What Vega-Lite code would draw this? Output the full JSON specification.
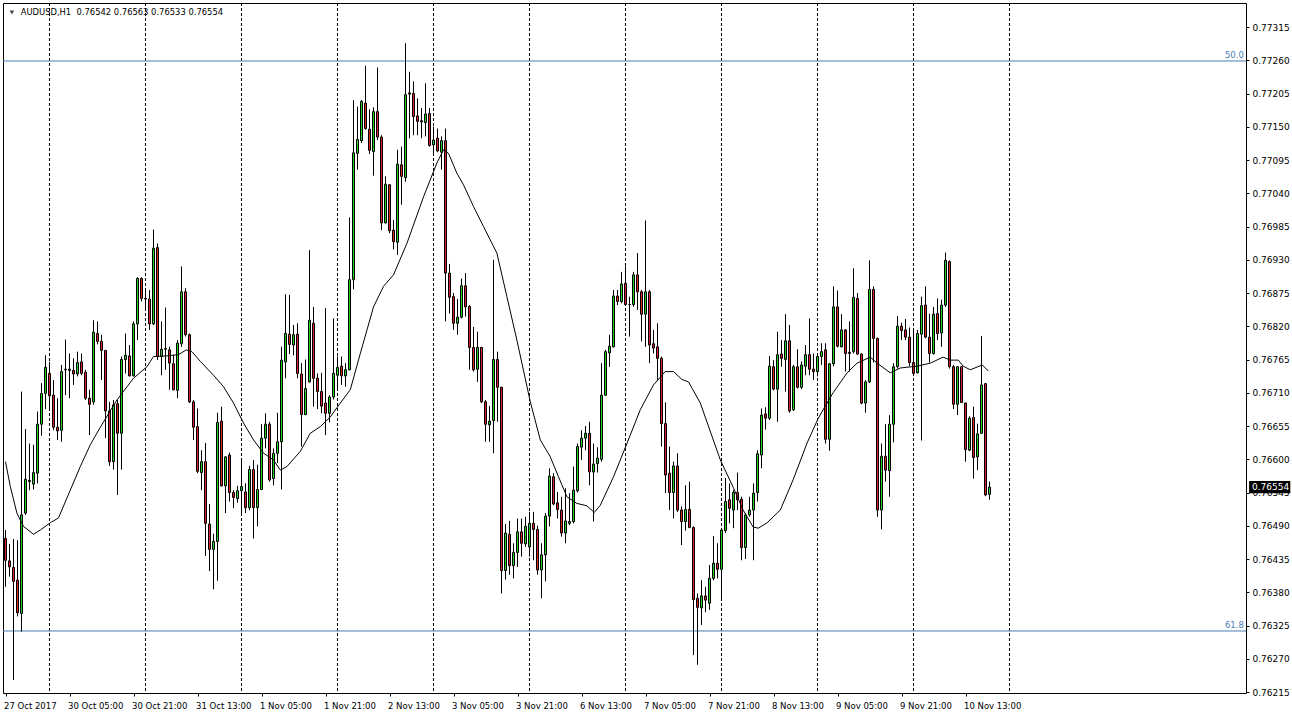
{
"$schema": "https://vega.github.io/schema/vega-lite/v6.json",
"usermeta": {"embedOptions": {"actions": false}},
"width": 1243, "height": 690,
"autosize": {"type": "none"},
"padding": {"left": 3, "top": 3, "right": 46, "bottom": 27},
"background": "white",
"config": {"view": {"stroke": "black", "strokeWidth": 1}, "font": "DejaVu Sans",
 "axis": {"labelFont": "DejaVu Sans", "labelFontSize": 9, "labelColor": "black", "tickColor": "black", "domain": false, "grid": false, "labelOverlap": false, "labelBound": false, "labelFlush": false}},
"datasets": {
"seps": [{"i":11},{"i":35},{"i":59},{"i":83},{"i":107},{"i":131},{"i":155},{"i":179},{"i":203},{"i":227},{"i":251}],
"fib": [{"p":0.772588,"t":"50.0"},{"p":0.76316,"t":"61.8"}],
"bars": [
{"i":0,"o":0.76469,"h":0.76483,"l":0.76389,"c":0.76433},
{"i":1,"o":0.76432,"h":0.76460,"l":0.76406,"c":0.76422},
{"i":2,"o":0.76421,"h":0.76468,"l":0.76235,"c":0.76398},
{"i":3,"o":0.76400,"h":0.76466,"l":0.76340,"c":0.76346},
{"i":4,"o":0.76345,"h":0.76712,"l":0.76315,"c":0.76508},
{"i":5,"o":0.76511,"h":0.76650,"l":0.76508,"c":0.76567},
{"i":6,"o":0.76563,"h":0.76626,"l":0.76549,"c":0.76565},
{"i":7,"o":0.76559,"h":0.76624,"l":0.76550,"c":0.76578},
{"i":8,"o":0.76577,"h":0.76679,"l":0.76560,"c":0.76658},
{"i":9,"o":0.76658,"h":0.76726,"l":0.76639,"c":0.76709},
{"i":10,"o":0.76709,"h":0.76772,"l":0.76683,"c":0.76752},
{"i":11,"o":0.76742,"h":0.76761,"l":0.76684,"c":0.76705},
{"i":12,"o":0.76706,"h":0.76731,"l":0.76648,"c":0.76653},
{"i":13,"o":0.76653,"h":0.76701,"l":0.76632,"c":0.76647},
{"i":14,"o":0.76648,"h":0.76756,"l":0.76629,"c":0.76745},
{"i":15,"o":0.76748,"h":0.76798,"l":0.76706,"c":0.76749},
{"i":16,"o":0.76749,"h":0.76775,"l":0.76701,"c":0.76747},
{"i":17,"o":0.76747,"h":0.76767,"l":0.76723,"c":0.76741},
{"i":18,"o":0.76741,"h":0.76778,"l":0.76737,"c":0.76760},
{"i":19,"o":0.76761,"h":0.76775,"l":0.76739,"c":0.76742},
{"i":20,"o":0.76744,"h":0.76748,"l":0.76698,"c":0.76701},
{"i":21,"o":0.76701,"h":0.76715,"l":0.76640,"c":0.76691},
{"i":22,"o":0.76695,"h":0.76830,"l":0.76690,"c":0.76810},
{"i":23,"o":0.76808,"h":0.76828,"l":0.76790,"c":0.76795},
{"i":24,"o":0.76795,"h":0.76806,"l":0.76731,"c":0.76780},
{"i":25,"o":0.76780,"h":0.76781,"l":0.76635,"c":0.76680},
{"i":26,"o":0.76680,"h":0.76695,"l":0.76589,"c":0.76596},
{"i":27,"o":0.76596,"h":0.76698,"l":0.76583,"c":0.76690},
{"i":28,"o":0.76692,"h":0.76698,"l":0.76541,"c":0.76643},
{"i":29,"o":0.76643,"h":0.76770,"l":0.76583,"c":0.76765},
{"i":30,"o":0.76765,"h":0.76808,"l":0.76742,"c":0.76772},
{"i":31,"o":0.76771,"h":0.76789,"l":0.76737,"c":0.76738},
{"i":32,"o":0.76738,"h":0.76828,"l":0.76737,"c":0.76824},
{"i":33,"o":0.76824,"h":0.76901,"l":0.76797,"c":0.76899},
{"i":34,"o":0.76899,"h":0.76901,"l":0.76861,"c":0.76866},
{"i":35,"o":0.76866,"h":0.76883,"l":0.76850,"c":0.76865},
{"i":36,"o":0.76865,"h":0.76880,"l":0.76814,"c":0.76824},
{"i":37,"o":0.76824,"h":0.76980,"l":0.76822,"c":0.76949},
{"i":38,"o":0.76950,"h":0.76957,"l":0.76764,"c":0.76770},
{"i":39,"o":0.76770,"h":0.76828,"l":0.76739,"c":0.76782},
{"i":40,"o":0.76782,"h":0.76851,"l":0.76748,"c":0.76783},
{"i":41,"o":0.76781,"h":0.76786,"l":0.76715,"c":0.76759},
{"i":42,"o":0.76758,"h":0.76773,"l":0.76714,"c":0.76715},
{"i":43,"o":0.76714,"h":0.76797,"l":0.76701,"c":0.76792},
{"i":44,"o":0.76791,"h":0.76919,"l":0.76786,"c":0.76877},
{"i":45,"o":0.76877,"h":0.76883,"l":0.76803,"c":0.76806},
{"i":46,"o":0.76806,"h":0.76808,"l":0.76693,"c":0.76695},
{"i":47,"o":0.76695,"h":0.76698,"l":0.76632,"c":0.76653},
{"i":48,"o":0.76654,"h":0.76684,"l":0.76577,"c":0.76580},
{"i":49,"o":0.76578,"h":0.76615,"l":0.76549,"c":0.76596},
{"i":50,"o":0.76596,"h":0.76627,"l":0.76440,"c":0.76494},
{"i":51,"o":0.76493,"h":0.76526,"l":0.76415,"c":0.76451},
{"i":52,"o":0.76451,"h":0.76477,"l":0.76385,"c":0.76464},
{"i":53,"o":0.76464,"h":0.76677,"l":0.76399,"c":0.76661},
{"i":54,"o":0.76663,"h":0.76687,"l":0.76555,"c":0.76556},
{"i":55,"o":0.76556,"h":0.76605,"l":0.76511,"c":0.76604},
{"i":56,"o":0.76607,"h":0.76611,"l":0.76530,"c":0.76545},
{"i":57,"o":0.76545,"h":0.76549,"l":0.76519,"c":0.76537},
{"i":58,"o":0.76535,"h":0.76556,"l":0.76528,"c":0.76548},
{"i":59,"o":0.76548,"h":0.76599,"l":0.76508,"c":0.76555},
{"i":60,"o":0.76546,"h":0.76560,"l":0.76511,"c":0.76520},
{"i":61,"o":0.76520,"h":0.76589,"l":0.76516,"c":0.76583},
{"i":62,"o":0.76583,"h":0.76599,"l":0.76469,"c":0.76520},
{"i":63,"o":0.76520,"h":0.76591,"l":0.76489,"c":0.76550},
{"i":64,"o":0.76550,"h":0.76658,"l":0.76549,"c":0.76635},
{"i":65,"o":0.76635,"h":0.76676,"l":0.76618,"c":0.76658},
{"i":66,"o":0.76658,"h":0.76662,"l":0.76563,"c":0.76566},
{"i":67,"o":0.76568,"h":0.76618,"l":0.76557,"c":0.76610},
{"i":68,"o":0.76610,"h":0.76677,"l":0.76594,"c":0.76629},
{"i":69,"o":0.76629,"h":0.76786,"l":0.76550,"c":0.76764},
{"i":70,"o":0.76761,"h":0.76873,"l":0.76734,"c":0.76808},
{"i":71,"o":0.76807,"h":0.76872,"l":0.76774,"c":0.76790},
{"i":72,"o":0.76789,"h":0.76822,"l":0.76772,"c":0.76806},
{"i":73,"o":0.76807,"h":0.76825,"l":0.76734,"c":0.76742},
{"i":74,"o":0.76741,"h":0.76759,"l":0.76621,"c":0.76674},
{"i":75,"o":0.76674,"h":0.76765,"l":0.76673,"c":0.76717},
{"i":76,"o":0.76728,"h":0.76946,"l":0.76727,"c":0.76830},
{"i":77,"o":0.76825,"h":0.76852,"l":0.76687,"c":0.76734},
{"i":78,"o":0.76734,"h":0.76742,"l":0.76683,"c":0.76712},
{"i":79,"o":0.76712,"h":0.76743,"l":0.76676,"c":0.76688},
{"i":80,"o":0.76693,"h":0.76850,"l":0.76640,"c":0.76676},
{"i":81,"o":0.76676,"h":0.76706,"l":0.76661,"c":0.76703},
{"i":82,"o":0.76703,"h":0.76833,"l":0.76699,"c":0.76742},
{"i":83,"o":0.76739,"h":0.76770,"l":0.76715,"c":0.76752},
{"i":84,"o":0.76754,"h":0.76770,"l":0.76723,"c":0.76738},
{"i":85,"o":0.76738,"h":0.76759,"l":0.76720,"c":0.76748},
{"i":86,"o":0.76748,"h":0.77000,"l":0.76747,"c":0.76897},
{"i":87,"o":0.76897,"h":0.77194,"l":0.76881,"c":0.77107},
{"i":88,"o":0.77106,"h":0.77183,"l":0.77079,"c":0.77129},
{"i":89,"o":0.77127,"h":0.77194,"l":0.77123,"c":0.77192},
{"i":90,"o":0.77189,"h":0.77251,"l":0.77145,"c":0.77147},
{"i":91,"o":0.77146,"h":0.77179,"l":0.77105,"c":0.77111},
{"i":92,"o":0.77109,"h":0.77182,"l":0.77069,"c":0.77175},
{"i":93,"o":0.77175,"h":0.77248,"l":0.77128,"c":0.77133},
{"i":94,"o":0.77133,"h":0.77136,"l":0.76979,"c":0.76991},
{"i":95,"o":0.76991,"h":0.77068,"l":0.76990,"c":0.77055},
{"i":96,"o":0.77054,"h":0.77055,"l":0.76974,"c":0.76978},
{"i":97,"o":0.76979,"h":0.76996,"l":0.76947,"c":0.76960},
{"i":98,"o":0.76959,"h":0.77112,"l":0.76938,"c":0.77088},
{"i":99,"o":0.77087,"h":0.77117,"l":0.77021,"c":0.77068},
{"i":100,"o":0.77066,"h":0.77288,"l":0.77059,"c":0.77203},
{"i":101,"o":0.77206,"h":0.77241,"l":0.77131,"c":0.77204},
{"i":102,"o":0.77205,"h":0.77225,"l":0.77136,"c":0.77167},
{"i":103,"o":0.77168,"h":0.77197,"l":0.77136,"c":0.77159},
{"i":104,"o":0.77160,"h":0.77181,"l":0.77131,"c":0.77158},
{"i":105,"o":0.77157,"h":0.77222,"l":0.77134,"c":0.77171},
{"i":106,"o":0.77172,"h":0.77181,"l":0.77117,"c":0.77119},
{"i":107,"o":0.77120,"h":0.77150,"l":0.77106,"c":0.77128},
{"i":108,"o":0.77131,"h":0.77147,"l":0.77108,"c":0.77110},
{"i":109,"o":0.77108,"h":0.77134,"l":0.77079,"c":0.77127},
{"i":110,"o":0.77127,"h":0.77147,"l":0.76828,"c":0.76908},
{"i":111,"o":0.76908,"h":0.76923,"l":0.76841,"c":0.76868},
{"i":112,"o":0.76869,"h":0.76875,"l":0.76814,"c":0.76825},
{"i":113,"o":0.76825,"h":0.76865,"l":0.76806,"c":0.76835},
{"i":114,"o":0.76835,"h":0.76899,"l":0.76833,"c":0.76887},
{"i":115,"o":0.76887,"h":0.76908,"l":0.76836,"c":0.76852},
{"i":116,"o":0.76853,"h":0.76855,"l":0.76748,"c":0.76785},
{"i":117,"o":0.76785,"h":0.76819,"l":0.76745,"c":0.76748},
{"i":118,"o":0.76749,"h":0.76811,"l":0.76728,"c":0.76785},
{"i":119,"o":0.76785,"h":0.76786,"l":0.76693,"c":0.76695},
{"i":120,"o":0.76695,"h":0.76698,"l":0.76629,"c":0.76658},
{"i":121,"o":0.76657,"h":0.76688,"l":0.76629,"c":0.76663},
{"i":122,"o":0.76664,"h":0.76930,"l":0.76610,"c":0.76765},
{"i":123,"o":0.76765,"h":0.76778,"l":0.76662,"c":0.76719},
{"i":124,"o":0.76719,"h":0.76720,"l":0.76378,"c":0.76416},
{"i":125,"o":0.76416,"h":0.76493,"l":0.76401,"c":0.76478},
{"i":126,"o":0.76476,"h":0.76498,"l":0.76409,"c":0.76424},
{"i":127,"o":0.76424,"h":0.76461,"l":0.76403,"c":0.76446},
{"i":128,"o":0.76446,"h":0.76502,"l":0.76422,"c":0.76480},
{"i":129,"o":0.76480,"h":0.76502,"l":0.76439,"c":0.76461},
{"i":130,"o":0.76460,"h":0.76505,"l":0.76455,"c":0.76489},
{"i":131,"o":0.76455,"h":0.76513,"l":0.76439,"c":0.76494},
{"i":132,"o":0.76494,"h":0.76513,"l":0.76433,"c":0.76484},
{"i":133,"o":0.76484,"h":0.76490,"l":0.76409,"c":0.76417},
{"i":134,"o":0.76417,"h":0.76461,"l":0.76370,"c":0.76442},
{"i":135,"o":0.76442,"h":0.76511,"l":0.76398,"c":0.76506},
{"i":136,"o":0.76506,"h":0.76585,"l":0.76489,"c":0.76572},
{"i":137,"o":0.76571,"h":0.76577,"l":0.76524,"c":0.76526},
{"i":138,"o":0.76528,"h":0.76546,"l":0.76502,"c":0.76517},
{"i":139,"o":0.76516,"h":0.76538,"l":0.76472,"c":0.76478},
{"i":140,"o":0.76478,"h":0.76552,"l":0.76461,"c":0.76498},
{"i":141,"o":0.76494,"h":0.76544,"l":0.76491,"c":0.76497},
{"i":142,"o":0.76497,"h":0.76588,"l":0.76494,"c":0.76549},
{"i":143,"o":0.76548,"h":0.76626,"l":0.76545,"c":0.76621},
{"i":144,"o":0.76620,"h":0.76648,"l":0.76599,"c":0.76635},
{"i":145,"o":0.76635,"h":0.76655,"l":0.76615,"c":0.76643},
{"i":146,"o":0.76643,"h":0.76662,"l":0.76557,"c":0.76579},
{"i":147,"o":0.76579,"h":0.76626,"l":0.76497,"c":0.76592},
{"i":148,"o":0.76593,"h":0.76620,"l":0.76578,"c":0.76602},
{"i":149,"o":0.76600,"h":0.76759,"l":0.76596,"c":0.76706},
{"i":150,"o":0.76706,"h":0.76781,"l":0.76705,"c":0.76778},
{"i":151,"o":0.76776,"h":0.76806,"l":0.76753,"c":0.76787},
{"i":152,"o":0.76786,"h":0.76880,"l":0.76785,"c":0.76870},
{"i":153,"o":0.76870,"h":0.76880,"l":0.76855,"c":0.76861},
{"i":154,"o":0.76861,"h":0.76910,"l":0.76858,"c":0.76890},
{"i":155,"o":0.76891,"h":0.76919,"l":0.76855,"c":0.76856},
{"i":156,"o":0.76856,"h":0.76869,"l":0.76803,"c":0.76856},
{"i":157,"o":0.76856,"h":0.76910,"l":0.76852,"c":0.76905},
{"i":158,"o":0.76905,"h":0.76941,"l":0.76847,"c":0.76877},
{"i":159,"o":0.76877,"h":0.76880,"l":0.76795,"c":0.76840},
{"i":160,"o":0.76840,"h":0.76995,"l":0.76786,"c":0.76877},
{"i":161,"o":0.76877,"h":0.76880,"l":0.76759,"c":0.76789},
{"i":162,"o":0.76791,"h":0.76814,"l":0.76775,"c":0.76784},
{"i":163,"o":0.76786,"h":0.76825,"l":0.76731,"c":0.76767},
{"i":164,"o":0.76767,"h":0.76770,"l":0.76621,"c":0.76659},
{"i":165,"o":0.76659,"h":0.76694,"l":0.76544,"c":0.76574},
{"i":166,"o":0.76577,"h":0.76621,"l":0.76516,"c":0.76545},
{"i":167,"o":0.76545,"h":0.76596,"l":0.76502,"c":0.76589},
{"i":168,"o":0.76589,"h":0.76610,"l":0.76513,"c":0.76516},
{"i":169,"o":0.76516,"h":0.76522,"l":0.76458,"c":0.76497},
{"i":170,"o":0.76497,"h":0.76557,"l":0.76482,"c":0.76517},
{"i":171,"o":0.76517,"h":0.76563,"l":0.76486,"c":0.76487},
{"i":172,"o":0.76487,"h":0.76489,"l":0.76276,"c":0.76368},
{"i":173,"o":0.76370,"h":0.76378,"l":0.76260,"c":0.76355},
{"i":174,"o":0.76354,"h":0.76400,"l":0.76326,"c":0.76374},
{"i":175,"o":0.76374,"h":0.76389,"l":0.76347,"c":0.76367},
{"i":176,"o":0.76362,"h":0.76425,"l":0.76351,"c":0.76403},
{"i":177,"o":0.76403,"h":0.76473,"l":0.76400,"c":0.76428},
{"i":178,"o":0.76428,"h":0.76461,"l":0.76403,"c":0.76418},
{"i":179,"o":0.76418,"h":0.76486,"l":0.76367,"c":0.76483},
{"i":180,"o":0.76482,"h":0.76569,"l":0.76478,"c":0.76530},
{"i":181,"o":0.76533,"h":0.76560,"l":0.76494,"c":0.76519},
{"i":182,"o":0.76516,"h":0.76549,"l":0.76486,"c":0.76545},
{"i":183,"o":0.76545,"h":0.76578,"l":0.76516,"c":0.76533},
{"i":184,"o":0.76534,"h":0.76538,"l":0.76433,"c":0.76454},
{"i":185,"o":0.76454,"h":0.76511,"l":0.76435,"c":0.76508},
{"i":186,"o":0.76508,"h":0.76538,"l":0.76505,"c":0.76516},
{"i":187,"o":0.76516,"h":0.76560,"l":0.76433,"c":0.76544},
{"i":188,"o":0.76545,"h":0.76615,"l":0.76530,"c":0.76609},
{"i":189,"o":0.76607,"h":0.76684,"l":0.76585,"c":0.76673},
{"i":190,"o":0.76675,"h":0.76686,"l":0.76649,"c":0.76668},
{"i":191,"o":0.76668,"h":0.76771,"l":0.76665,"c":0.76754},
{"i":192,"o":0.76753,"h":0.76764,"l":0.76714,"c":0.76716},
{"i":193,"o":0.76716,"h":0.76811,"l":0.76662,"c":0.76773},
{"i":194,"o":0.76774,"h":0.76797,"l":0.76753,"c":0.76767},
{"i":195,"o":0.76765,"h":0.76840,"l":0.76712,"c":0.76796},
{"i":196,"o":0.76796,"h":0.76822,"l":0.76677,"c":0.76680},
{"i":197,"o":0.76682,"h":0.76756,"l":0.76680,"c":0.76753},
{"i":198,"o":0.76753,"h":0.76782,"l":0.76717,"c":0.76719},
{"i":199,"o":0.76719,"h":0.76762,"l":0.76716,"c":0.76756},
{"i":200,"o":0.76754,"h":0.76789,"l":0.76739,"c":0.76773},
{"i":201,"o":0.76773,"h":0.76833,"l":0.76739,"c":0.76749},
{"i":202,"o":0.76749,"h":0.76775,"l":0.76731,"c":0.76745},
{"i":203,"o":0.76745,"h":0.76773,"l":0.76737,"c":0.76770},
{"i":204,"o":0.76770,"h":0.76792,"l":0.76756,"c":0.76778},
{"i":205,"o":0.76781,"h":0.76792,"l":0.76626,"c":0.76633},
{"i":206,"o":0.76633,"h":0.76759,"l":0.76614,"c":0.76758},
{"i":207,"o":0.76758,"h":0.76886,"l":0.76754,"c":0.76852},
{"i":208,"o":0.76852,"h":0.76879,"l":0.76785,"c":0.76787},
{"i":209,"o":0.76786,"h":0.76840,"l":0.76785,"c":0.76814},
{"i":210,"o":0.76814,"h":0.76815,"l":0.76745,"c":0.76775},
{"i":211,"o":0.76777,"h":0.76828,"l":0.76745,"c":0.76775},
{"i":212,"o":0.76778,"h":0.76916,"l":0.76775,"c":0.76868},
{"i":213,"o":0.76866,"h":0.76875,"l":0.76773,"c":0.76774},
{"i":214,"o":0.76774,"h":0.76775,"l":0.76691,"c":0.76693},
{"i":215,"o":0.76693,"h":0.76731,"l":0.76677,"c":0.76728},
{"i":216,"o":0.76728,"h":0.76929,"l":0.76726,"c":0.76881},
{"i":217,"o":0.76881,"h":0.76886,"l":0.76760,"c":0.76800},
{"i":218,"o":0.76800,"h":0.76801,"l":0.76505,"c":0.76516},
{"i":219,"o":0.76516,"h":0.76626,"l":0.76484,"c":0.76605},
{"i":220,"o":0.76605,"h":0.76658,"l":0.76563,"c":0.76582},
{"i":221,"o":0.76581,"h":0.76673,"l":0.76538,"c":0.76658},
{"i":222,"o":0.76658,"h":0.76759,"l":0.76628,"c":0.76753},
{"i":223,"o":0.76753,"h":0.76837,"l":0.76750,"c":0.76820},
{"i":224,"o":0.76820,"h":0.76826,"l":0.76797,"c":0.76813},
{"i":225,"o":0.76814,"h":0.76832,"l":0.76797,"c":0.76802},
{"i":226,"o":0.76802,"h":0.76818,"l":0.76754,"c":0.76760},
{"i":227,"o":0.76760,"h":0.76814,"l":0.76741,"c":0.76742},
{"i":228,"o":0.76743,"h":0.76814,"l":0.76742,"c":0.76808},
{"i":229,"o":0.76807,"h":0.76869,"l":0.76631,"c":0.76854},
{"i":230,"o":0.76855,"h":0.76886,"l":0.76800,"c":0.76802},
{"i":231,"o":0.76802,"h":0.76841,"l":0.76760,"c":0.76775},
{"i":232,"o":0.76775,"h":0.76852,"l":0.76773,"c":0.76840},
{"i":233,"o":0.76841,"h":0.76866,"l":0.76797,"c":0.76808},
{"i":234,"o":0.76809,"h":0.76864,"l":0.76786,"c":0.76855},
{"i":235,"o":0.76855,"h":0.76942,"l":0.76852,"c":0.76929},
{"i":236,"o":0.76927,"h":0.76929,"l":0.76750,"c":0.76753},
{"i":237,"o":0.76753,"h":0.76756,"l":0.76683,"c":0.76691},
{"i":238,"o":0.76691,"h":0.76754,"l":0.76673,"c":0.76753},
{"i":239,"o":0.76753,"h":0.76754,"l":0.76693,"c":0.76694},
{"i":240,"o":0.76693,"h":0.76694,"l":0.76596,"c":0.76616},
{"i":241,"o":0.76615,"h":0.76671,"l":0.76614,"c":0.76668},
{"i":242,"o":0.76669,"h":0.76687,"l":0.76568,"c":0.76603},
{"i":243,"o":0.76604,"h":0.76659,"l":0.76582,"c":0.76642},
{"i":244,"o":0.76643,"h":0.76804,"l":0.76642,"c":0.76723},
{"i":245,"o":0.76725,"h":0.76726,"l":0.76539,"c":0.76541},
{"i":246,"o":0.76542,"h":0.76563,"l":0.76533,"c":0.76554}
],
"ma": [
{"i":0,"v":0.76596},{"i":1.2,"v":0.76555},{"i":2.85,"v":0.76511},{"i":4.5,"v":0.76489},{"i":7,"v":0.76476},{"i":8.7,"v":0.76483},{"i":11.2,"v":0.76495},{"i":13.25,"v":0.76503},{"i":16.2,"v":0.76549},{"i":18.7,"v":0.76588},{"i":21.2,"v":0.76624},{"i":23.7,"v":0.76653},{"i":27.85,"v":0.76698},{"i":32,"v":0.76734},{"i":35.35,"v":0.76753},{"i":37,"v":0.7677},{"i":40.35,"v":0.76771},{"i":43.25,"v":0.76773},{"i":45.2,"v":0.76781},{"i":46.6,"v":0.76778},{"i":48.7,"v":0.76762},{"i":52,"v":0.76739},{"i":54.5,"v":0.7672},{"i":57,"v":0.76693},{"i":59.5,"v":0.7666},{"i":62,"v":0.76632},{"i":64.5,"v":0.7661},{"i":67,"v":0.76599},{"i":68.7,"v":0.76582},{"i":70.35,"v":0.76588},{"i":73.7,"v":0.76613},{"i":76.2,"v":0.76643},{"i":78.7,"v":0.76654},{"i":81.2,"v":0.7667},{"i":83.7,"v":0.76693},{"i":86.2,"v":0.76715},{"i":88.7,"v":0.76775},{"i":92,"v":0.76852},{"i":94.5,"v":0.76886},{"i":97,"v":0.76905},{"i":100.35,"v":0.76957},{"i":104.5,"v":0.77034},{"i":107.85,"v":0.7709},{"i":109.5,"v":0.77112},{"i":110.75,"v":0.77106},{"i":112.85,"v":0.77073},{"i":114.5,"v":0.77054},{"i":117,"v":0.77018},{"i":119.5,"v":0.76985},{"i":122.85,"v":0.76941},{"i":125.35,"v":0.76869},{"i":127.85,"v":0.76797},{"i":131.2,"v":0.76695},{"i":133.7,"v":0.76632},{"i":136.2,"v":0.76604},{"i":138.25,"v":0.76571},{"i":140.35,"v":0.76538},{"i":142.85,"v":0.76527},{"i":145.35,"v":0.76523},{"i":147.2,"v":0.76512},{"i":148.7,"v":0.76524},{"i":152,"v":0.76571},{"i":155.35,"v":0.76626},{"i":158.7,"v":0.76682},{"i":162,"v":0.76723},{"i":164.9,"v":0.76745},{"i":167,"v":0.76745},{"i":169.1,"v":0.76732},{"i":170.75,"v":0.76728},{"i":173.7,"v":0.76693},{"i":178.7,"v":0.76599},{"i":181.9,"v":0.76554},{"i":184.4,"v":0.76516},{"i":186.9,"v":0.76488},{"i":188.2,"v":0.76486},{"i":190.4,"v":0.76495},{"i":193.7,"v":0.76516},{"i":196.9,"v":0.76566},{"i":200.4,"v":0.76627},{"i":203.2,"v":0.76668},{"i":206.9,"v":0.7671},{"i":210.4,"v":0.76743},{"i":212.9,"v":0.76759},{"i":216.2,"v":0.76769},{"i":217.9,"v":0.76759},{"i":221.2,"v":0.76743},{"i":223.7,"v":0.76751},{"i":227.9,"v":0.76754},{"i":231.2,"v":0.76759},{"i":234.4,"v":0.76769},{"i":236.2,"v":0.76764},{"i":238.2,"v":0.76764},{"i":239.4,"v":0.76754},{"i":241.2,"v":0.76748},{"i":244.2,"v":0.76756},{"i":245.7,"v":0.76746}
]
},
"layer": [
{"data": {"name": "seps"},
 "mark": {"type": "rule", "color": "black", "strokeWidth": 1, "strokeDash": [3, 2]},
 "encoding": {"x": {"field": "i", "type": "quantitative",
   "scale": {"domain": [-0.625, 310.125], "nice": false, "zero": false, "padding": 0},
   "axis": {"title": null, "values": [0,16,32,48,64,80,96,112,128,144,160,176,192,208,224,240], "tickCount": 40,
     "labelExpr": "['27 Oct 2017','30 Oct 05:00','30 Oct 21:00','31 Oct 13:00','1 Nov 05:00','1 Nov 21:00','2 Nov 13:00','3 Nov 05:00','3 Nov 21:00','6 Nov 13:00','7 Nov 05:00','7 Nov 21:00','8 Nov 13:00','9 Nov 05:00','9 Nov 21:00','10 Nov 13:00'][round(datum.value/16)]",
     "labelAlign": "left", "labelBaseline": "top", "labelPadding": 5, "labelOffset": -2, "tickSize": 3, "labelFontSize": 8.5, "labelOverlap": false}}}},
{"data": {"name": "fib"},
 "mark": {"type": "rule", "color": "#4a7db5", "strokeWidth": 1},
 "encoding": {"y": {"field": "p", "type": "quantitative",
   "scale": {"domain": [0.762134, 0.773547], "nice": false, "zero": false, "padding": 0},
   "axis": {"title": null, "orient": "right", "format": ".5f", "tickSize": 3, "labelPadding": 3, "labelOverlap": false, "tickCount": 40,
     "values": [0.76215,0.7627,0.76325,0.7638,0.76435,0.7649,0.76545,0.766,0.76655,0.7671,0.76765,0.7682,0.76875,0.7693,0.76985,0.7704,0.77095,0.7715,0.77205,0.7726,0.77315]}}}},
{"data": {"name": "fib"},
 "mark": {"type": "text", "color": "#4a7db5", "align": "right", "baseline": "bottom", "dy": -1, "fontSize": 8.5, "font": "DejaVu Sans"},
 "encoding": {"x": {"datum": 309.6, "type": "quantitative"}, "y": {"field": "p", "type": "quantitative"}, "text": {"field": "t"}}},
{"data": {"name": "bars"},
 "mark": {"type": "rule", "color": "black", "strokeWidth": 1},
 "encoding": {"x": {"field": "i", "type": "quantitative"}, "y": {"field": "l", "type": "quantitative"}, "y2": {"field": "h"}}},
{"data": {"name": "bars"},
 "mark": {"type": "bar", "width": 2, "stroke": "black", "strokeWidth": 1},
 "encoding": {"x": {"field": "i", "type": "quantitative"}, "y": {"field": "o", "type": "quantitative"}, "y2": {"field": "c"},
   "fill": {"condition": {"test": "datum.c >= datum.o", "value": "#22d322"}, "value": "#dd2020"}}},
{"data": {"name": "ma"},
 "mark": {"type": "line", "color": "black", "strokeWidth": 1},
 "encoding": {"x": {"field": "i", "type": "quantitative"}, "y": {"field": "v", "type": "quantitative"}}},
{"data": {"values": [{"p": 0.76554, "t": "0.76554"}]},
 "layer": [
  {"mark": {"type": "rect", "color": "black"},
   "encoding": {"x": {"datum": 310.9, "type": "quantitative"}, "x2": {"datum": 321.2}, "y": {"datum": 0.76544, "type": "quantitative"}, "y2": {"datum": 0.76564}}},
  {"mark": {"type": "text", "color": "white", "align": "left", "baseline": "middle", "fontSize": 9, "font": "DejaVu Sans"},
   "encoding": {"x": {"datum": 311.6, "type": "quantitative"}, "y": {"field": "p", "type": "quantitative"}, "text": {"field": "t"}}}
 ]},
{"data": {"values": [{"t": "AUDUSD,H1\u00a0\u00a00.76542 0.76563 0.76533 0.76554"}]},
 "layer": [
  {"mark": {"type": "point", "shape": "triangle-down", "filled": true, "color": "black", "size": 22},
   "encoding": {"x": {"datum": 1.6, "type": "quantitative"}, "y": {"datum": 0.77339, "type": "quantitative"}}},
  {"mark": {"type": "text", "color": "black", "align": "left", "baseline": "middle", "fontSize": 8.4, "font": "DejaVu Sans"},
   "encoding": {"x": {"datum": 3.8, "type": "quantitative"}, "y": {"datum": 0.77339, "type": "quantitative"}, "text": {"field": "t"}}}
 ]}
]
}
